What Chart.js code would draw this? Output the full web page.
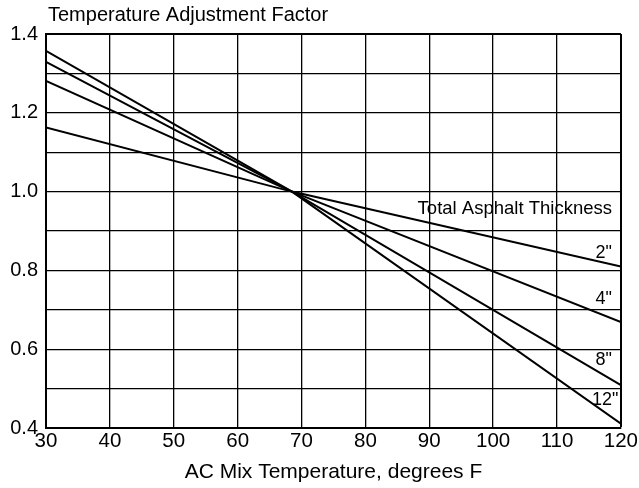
<!DOCTYPE html>
<html>
<head>
<meta charset="utf-8">
<script src="https://cdn.jsdelivr.net/npm/chart.js@4.4.1/dist/chart.umd.min.js"></script>
<style>
  html, body { margin: 0; padding: 0; background: #fff; }
  #wrap { width: 639px; height: 488px; }
</style>
</head>
<body>
<div id="wrap"><canvas id="factorChart" width="639" height="488"></canvas></div>
<script>
// readings (deg F vs factor)
const temps = [30, 68.5, 120];
const factor2 = [1.163, 1.0, 0.81];
const factor4 = [1.281, 1.0, 0.669];
const factor8 = [1.329, 1.0, 0.509];
const factor12 = [1.357, 1.0, 0.411];
const thicknessLabels = ['2"', '4"', '8"', '12"'];
const xTicks = [30, 40, 50, 60, 70, 80, 90, 100, 110, 120];
const yTickLabels = ["0.4", "0.6", "0.8", "1.0", "1.2", "1.4"];

const fontName = "'Liberation Sans', Arial, Helvetica, sans-serif";

function toPoints(ys) {
  return temps.map((t, i) => ({ x: t, y: ys[i] }));
}

const series = [factor2, factor4, factor8, factor12];

// text that is not part of the scales
const textPlugin = {
  id: "textPlugin",
  afterDraw(c) {
    const ctx = c.ctx;
    const xs = c.scales.x;
    const ys = c.scales.y;
    ctx.save();
    ctx.fillStyle = "#000";
    ctx.font = "20px " + fontName;
    ctx.textAlign = "left";
    ctx.textBaseline = "alphabetic";
    ctx.fillText("Temperature Adjustment Factor", 48, 21);

    ctx.textBaseline = "middle";
    ctx.font = "18.5px " + fontName;
    ctx.textAlign = "right";
    ctx.fillText("Total Asphalt Thickness", xs.getPixelForValue(118.6), ys.getPixelForValue(0.955));

    // label spots, near the right end of each line
    const spots = [[118.6, 0.843], [118.6, 0.727], [118.6, 0.572], [119.6, 0.47]];
    ctx.font = "18px " + fontName;
    thicknessLabels.forEach((lab, i) => {
      ctx.fillText(lab, xs.getPixelForValue(spots[i][0]), ys.getPixelForValue(spots[i][1]));
    });
    ctx.restore();
  }
};

new Chart(document.getElementById("factorChart"), {
  type: "line",
  data: {
    datasets: series.map((s, i) => ({
      label: thicknessLabels[i],
      data: toPoints(s),
      borderColor: "#000",
      borderWidth: 2,
      pointRadius: 0,
      tension: 0,
      fill: false
    }))
  },
  options: {
    responsive: false,
    animation: false,
    layout: { padding: { left: 0, right: 15, top: 34, bottom: 0 } },
    plugins: {
      legend: { display: false },
      tooltip: { enabled: false }
    },
    scales: {
      x: {
        type: "linear",
        min: 30,
        max: 120,
        afterBuildTicks: (scale) => { scale.ticks = xTicks.map(v => ({ value: v })); },
        afterFit: (scale) => { scale.height = 60; },
        ticks: {
          color: "#000",
          font: { family: fontName, size: 20.5 },
          padding: 1,
          maxRotation: 0,
          autoSkip: false
        },
        grid: {
          color: "#000",
          lineWidth: (ctx) => (ctx.tick && ctx.tick.value === 120 ? 2 : 1.3),
          drawTicks: false
        },
        border: { display: true, color: "#000", width: 2 },
        title: {
          display: true,
          text: "AC Mix Temperature, degrees F",
          color: "#000",
          font: { family: fontName, size: 21 },
          padding: { top: 0, bottom: 3 }
        }
      },
      y: {
        min: 0.4,
        max: 1.4,
        afterFit: (scale) => { scale.width = 46; },
        ticks: {
          stepSize: 0.1,
          color: "#000",
          font: { family: fontName, size: 20 },
          padding: 8,
          autoSkip: false,
          callback: (v) => {
            const lab = v.toFixed(1);
            return yTickLabels.includes(lab) ? lab : "";
          }
        },
        grid: {
          color: "#000",
          lineWidth: (ctx) => (ctx.tick && Math.abs(ctx.tick.value - 1.4) < 1e-6 ? 2 : 1.3),
          drawTicks: false
        },
        border: { display: true, color: "#000", width: 2 }
      }
    }
  },
  plugins: [textPlugin]
});
</script>
</body>
</html>
